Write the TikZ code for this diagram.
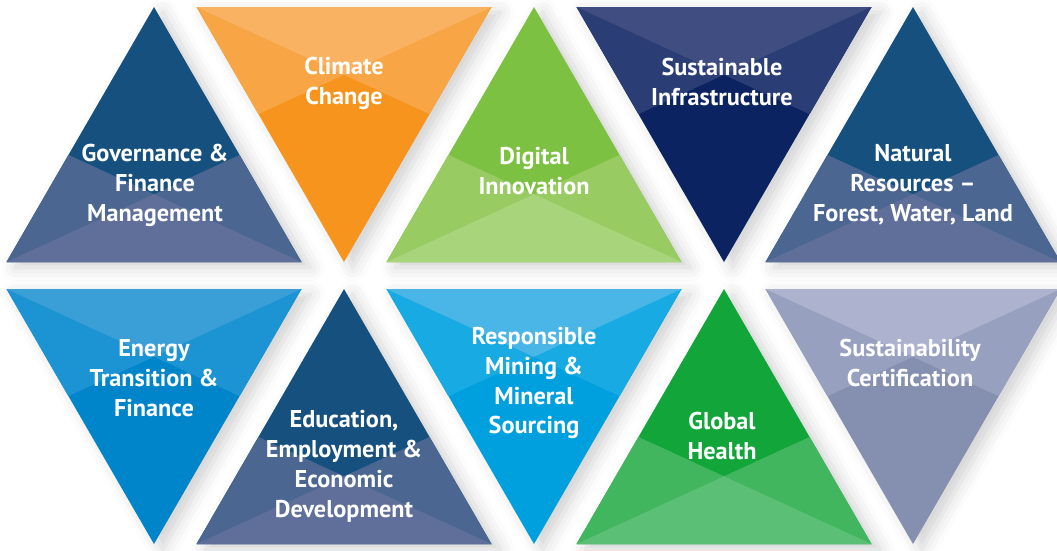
\documentclass[tikz,border=0pt]{standalone}
\usepackage{fontspec}
\setmainfont{PT Sans}
\usetikzlibrary{shadows.blur}

% Palette read off the theme triangles
\definecolor{govMain}{HTML}{16507F}
\definecolor{govSide}{HTML}{4A6691}
\definecolor{govLight}{HTML}{5F6F9A}
\definecolor{climMain}{HTML}{F7941D}
\definecolor{climSide}{HTML}{F7A545}
\definecolor{climLight}{HTML}{F9B262}
\definecolor{digMain}{HTML}{7DC142}
\definecolor{digSide}{HTML}{98CB61}
\definecolor{digLight}{HTML}{A8D47C}
\definecolor{infraMain}{HTML}{0B2461}
\definecolor{infraSide}{HTML}{2A3D75}
\definecolor{infraLight}{HTML}{3F4D80}
\definecolor{enMain}{HTML}{0085CA}
\definecolor{enSide}{HTML}{1C93D3}
\definecolor{enLight}{HTML}{3A9ED7}
\definecolor{minMain}{HTML}{00A0DF}
\definecolor{minSide}{HTML}{18ABE3}
\definecolor{minLight}{HTML}{4AB5E7}
\definecolor{healthMain}{HTML}{12A53A}
\definecolor{healthSide}{HTML}{42B55F}
\definecolor{healthLight}{HTML}{5BBF76}
\definecolor{certMain}{HTML}{8590B0}
\definecolor{certSide}{HTML}{97A0BF}
\definecolor{certLight}{HTML}{ADB3CE}

\begin{document}
\begin{tikzpicture}[x=0.01cm, y=-0.01cm]
  \tikzset{
    softshadow/.style={blur shadow={shadow xshift=2.5pt, shadow yshift=-1.5pt,
        shadow blur radius=4pt, shadow opacity=18}},
    caption/.style={text=white, align=center,
        font=\bfseries\fontsize{6.9}{8.5}\selectfont},
    % apex at the pic origin, base below
    pics/uptri/.style n args={3}{code={
      \fill[#1, softshadow] (0,0) -- (-147.5,255) -- (147.5,255) -- cycle;
      \fill[#2] (-147.5,255) -- (-85.6,147.9) -- (147.5,255) -- cycle;
      \fill[#2] (-147.5,255) -- (85.6,147.9) -- (147.5,255) -- cycle;
      \fill[#3] (-147.5,255) -- (0,187.2) -- (147.5,255) -- cycle;
    }},
    % top edge centred on the pic origin, apex below
    pics/downtri/.style n args={3}{code={
      \fill[#1, softshadow] (-147.5,0) -- (147.5,0) -- (0,255) -- cycle;
      \fill[#2] (-147.5,0) -- (85.6,107.1) -- (147.5,0) -- cycle;
      \fill[#2] (-147.5,0) -- (-85.6,107.1) -- (147.5,0) -- cycle;
      \fill[#3] (-147.5,0) -- (0,67.8) -- (147.5,0) -- cycle;
    }}
  }

  \useasboundingbox (0,0) rectangle (1057,550);
  \clip (0,0) rectangle (1057,550);

  % Top row
  \pic at (154,7) {uptri={govMain}{govSide}{govLight}};
  \pic at (344,7) {downtri={climMain}{climSide}{climLight}};
  \pic at (534,7) {uptri={digMain}{digSide}{digLight}};
  \pic at (724,7) {downtri={infraMain}{infraSide}{infraLight}};
  \pic at (913,7) {uptri={govMain}{govSide}{govLight}};

  % Bottom row
  \pic at (154,289) {downtri={enMain}{enSide}{enLight}};
  \pic at (344,289) {uptri={govMain}{govSide}{govLight}};
  \pic at (534,289) {downtri={minMain}{minSide}{minLight}};
  \pic at (724,289) {uptri={healthMain}{healthSide}{healthLight}};
  \pic at (913,289) {downtri={certMain}{certSide}{certLight}};

  % Theme labels
  \node[caption] (gov) at (155,185) {Governance \&\\Finance\\Management};
  \node[caption] (climate) at (344,83) {Climate\\Change};
  \node[caption] (digital) at (534,171) {Digital\\Innovation};
  \node[caption] (infra) at (722,82) {Sustainable\\Infrastructure};
  \node[caption] (natural) at (913,185) {Natural\\Resources --\\Forest, Water, Land};
  \node[caption] (energy) at (154,378) {Energy\\Transition \&\\Finance};
  \node[caption] (education) at (344,466) {Education,\\Employment \&\\Economic\\Development};
  \node[caption] (mining) at (534,383) {Responsible\\Mining \&\\Mineral\\Sourcing};
  \node[caption] (health) at (722,436) {Global\\Health};
  \node[caption] (cert) at (910,363) {Sustainability\\Certification};
\end{tikzpicture}
\end{document}
